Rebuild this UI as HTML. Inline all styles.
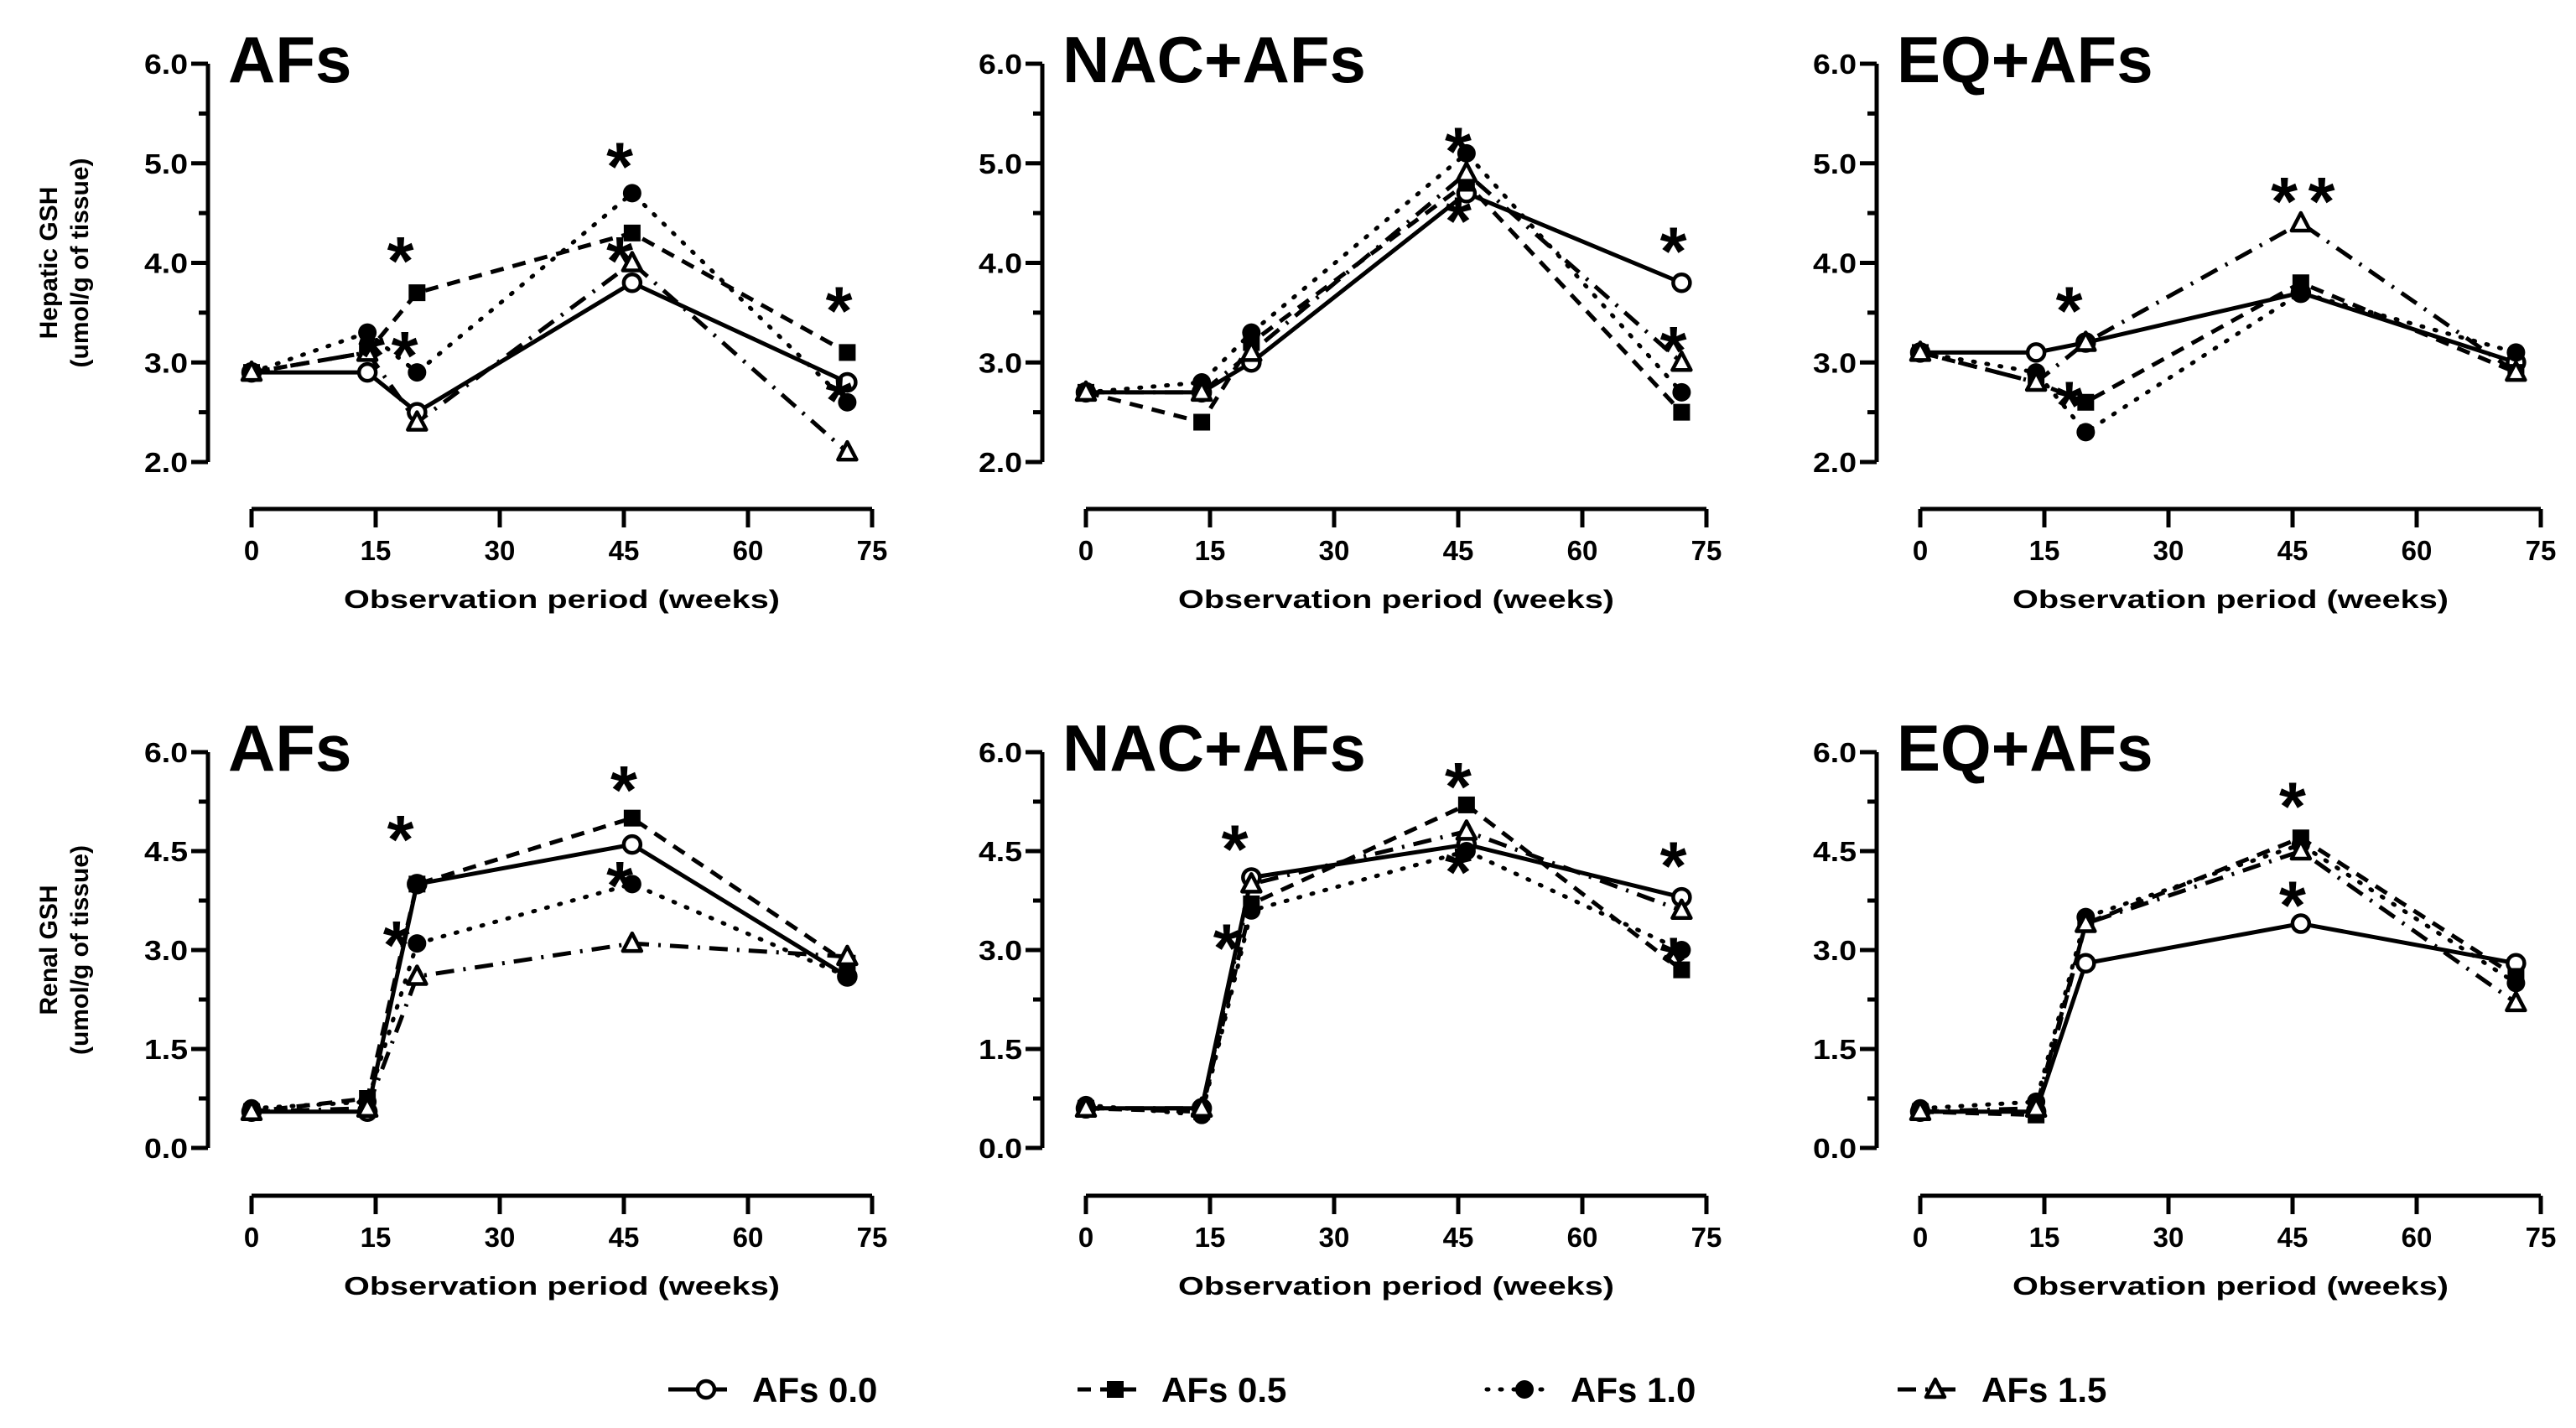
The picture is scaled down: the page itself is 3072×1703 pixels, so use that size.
<!DOCTYPE html>
<html><head><meta charset="utf-8"><style>
html,body{margin:0;padding:0;background:#fff;}
svg{display:block;font-family:"Liberation Sans",Arial,sans-serif;}
</style></head><body>
<svg id="fig" width="3072" height="1703" viewBox="0 0 3072 1703" xmlns="http://www.w3.org/2000/svg"></svg>
<script>
const weeks = [0, 14, 20, 46, 72];
const seriesNames = ["AFs 0.0", "AFs 0.5", "AFs 1.0", "AFs 1.5"];
const panelTitles = ["AFs", "NAC+AFs", "EQ+AFs", "AFs", "NAC+AFs", "EQ+AFs"];
const xTicks = [0, 15, 30, 45, 60, 75];
const hepTicks = ["2.0", "3.0", "4.0", "5.0", "6.0"];
const renTicks = ["0.0", "1.5", "3.0", "4.5", "6.0"];
const hepAFs = [[2.9,2.9,2.5,3.8,2.8],[2.9,3.1,3.7,4.3,3.1],[2.9,3.3,2.9,4.7,2.6],[2.9,3.1,2.4,4.0,2.1]];
const hepNAC = [[2.7,2.7,3.0,4.7,3.8],[2.7,2.4,3.2,4.8,2.5],[2.7,2.8,3.3,5.1,2.7],[2.7,2.7,3.1,4.9,3.0]];
const hepEQ = [[3.1,3.1,3.2,3.7,3.0],[3.1,2.8,2.6,3.8,2.9],[3.1,2.9,2.3,3.7,3.1],[3.1,2.8,3.2,4.4,2.9]];
const renAFs = [[0.55,0.55,4.0,4.6,2.6],[0.55,0.75,4.0,5.0,2.8],[0.6,0.7,3.1,4.0,2.6],[0.55,0.6,2.6,3.1,2.9]];
const renNAC = [[0.6,0.6,4.1,4.6,3.8],[0.6,0.55,3.7,5.2,2.7],[0.65,0.5,3.6,4.5,3.0],[0.6,0.6,4.0,4.8,3.6]];
const renEQ = [[0.55,0.55,2.8,3.4,2.8],[0.55,0.5,3.4,4.7,2.6],[0.6,0.7,3.5,4.6,2.5],[0.55,0.6,3.4,4.5,2.2]];
const starsHepAFs = [[18,4.1],[14.5,3.15],[18.5,3.15],[44.5,5.05],[44.5,4.1],[71,3.6],[71,2.7]];
const starsHepNAC = [[45,5.2],[45,4.5],[71,4.2],[71,3.2]];
const starsHepEQ = [[18,3.6],[18,2.65],[44,4.7],[48.5,4.7]];
const starsRenAFs = [[18,4.8],[45,5.55],[44.5,4.1],[17.5,3.2]];
const starsRenNAC = [[18,4.65],[17,3.15],[45,5.6],[45,4.3],[71,4.4],[71,2.95]];
const starsRenEQ = [[45,5.3],[45,3.8]];

const svg = document.getElementById('fig');
const NS = 'http://www.w3.org/2000/svg';
function mk(tag, attrs, parent){const e=document.createElementNS(NS,tag);for(const k in attrs)e.setAttribute(k,attrs[k]);(parent||svg).appendChild(e);return e;}
const dashes = ["none","16 11","2 14","22 11 3 11"];
const colX0 = [300, 1295, 2290];
const W = 740;
const rows = [
 {yTop:76, yBot:551, axisY:607, tickLblY:668, titleY:725, min:2, max:6, ticks:hepTicks, label:["Hepatic GSH","(umol/g of tissue)"], data:[hepAFs,hepNAC,hepEQ], stars:[starsHepAFs,starsHepNAC,starsHepEQ]},
 {yTop:897, yBot:1369, axisY:1426, tickLblY:1487, titleY:1544, min:0, max:6, ticks:renTicks, label:["Renal GSH","(umol/g of tissue)"], data:[renAFs,renNAC,renEQ], stars:[starsRenAFs,starsRenNAC,starsRenEQ]}
];
function marker(g,i,x,y){
  if(i===0){const c=mk('circle',{cx:x,cy:y,r:10,fill:'#fff',stroke:'#000','stroke-width':4.5},g);}
  else if(i===1){const r=mk('rect',{x:x-10,y:y-10,width:20,height:20,fill:'#000'},g);}
  else if(i===2){const c=mk('circle',{cx:x,cy:y,r:11,fill:'#000'},g);}
  else {const p=mk('polygon',{points:`${x},${y-12} ${x+11},${y+9} ${x-11},${y+9}`,fill:'#fff',stroke:'#000','stroke-width':4.5,'stroke-linejoin':'round'},g);}
}
rows.forEach((R,ri)=>{
  for(let c=0;c<3;c++){
    const x0=colX0[c];
    const xs=v=>x0+v/75*W;
    const ys=v=>R.yBot-(v-R.min)/(R.max-R.min)*(R.yBot-R.yTop);
    const g=mk('g',{});
    
    
    const ax=x0-52;
    const yl=mk('line',{x1:ax,y1:R.yTop,x2:ax,y2:R.yBot,stroke:'#000','stroke-width':5},g);
    
    
    for(let k=0;k<=8;k++){
      const yy=R.yBot-k/8*(R.yBot-R.yTop);
      const len=k%2===0?20:11;
      mk('line',{x1:ax-len,y1:yy,x2:ax,y2:yy,stroke:'#000','stroke-width':5},g);
    }
    R.ticks.forEach((t,k)=>{
      const yy=R.yBot-k/4*(R.yBot-R.yTop);
      const tx=mk('text',{x:ax-24,y:yy+12,'text-anchor':'end','font-size':33,'font-weight':'bold',textLength:52,lengthAdjust:'spacingAndGlyphs'},g);
      tx.textContent=t;
      
      
    });
    const xl=mk('line',{x1:x0,y1:R.axisY,x2:x0+W,y2:R.axisY,stroke:'#000','stroke-width':5},g);
    
    
    xTicks.forEach(t=>{
      mk('line',{x1:xs(t),y1:R.axisY,x2:xs(t),y2:R.axisY+22,stroke:'#000','stroke-width':5},g);
      const tx=mk('text',{x:xs(t),y:R.tickLblY,'text-anchor':'middle','font-size':33,'font-weight':'bold'},g);
      tx.textContent=t;
      
      
    });
    const xt=mk('text',{x:x0+W/2,y:R.titleY,'text-anchor':'middle','font-size':31,'font-weight':'bold',textLength:520,lengthAdjust:'spacingAndGlyphs'},g);
    xt.textContent='Observation period (weeks)';
    
    
    const pt=mk('text',{x:x0-28,y:R.yTop+22,'font-size':78,'font-weight':'bold'},g);
    pt.textContent=panelTitles[ri*3+c];
    
    
    if(c===0){
      const cy=(R.yTop+R.yBot)/2;
      const t1=mk('text',{x:0,y:0,'text-anchor':'middle','font-size':30,'font-weight':'bold',transform:`translate(68,${cy}) rotate(-90)`},g);
      t1.textContent=R.label[0];
      
      
      const t2=mk('text',{x:0,y:0,'text-anchor':'middle','font-size':30,'font-weight':'bold',transform:`translate(105,${cy}) rotate(-90)`},g);
      t2.textContent=R.label[1];
      
      
    }
    const D=R.data[c];
    D.forEach((vals,si)=>{
      const pts=vals.map((v,k)=>xs(weeks[k])+','+ys(v)).join(' ');
      const pl=mk('polyline',{points:pts,fill:'none',stroke:'#000','stroke-width':5,'stroke-dasharray':dashes[si],'stroke-linecap':si===2?'round':'butt'},g);
      
      
    });
    D.forEach((vals,si)=>{vals.forEach((v,k)=>marker(g,si,xs(weeks[k]),ys(v)));});
    R.stars[c].forEach(s=>{
      const st=mk('text',{x:xs(s[0]),y:ys(s[1])+38,'text-anchor':'middle','font-size':82,'font-weight':'bold'},g);
      st.textContent='*';
      
      
    });
  }
});
const legX=[797,1285,1773,2263];
const legY=1657;
seriesNames.forEach((n,i)=>{
  const g=mk('g',{});
  
  
  const lx=legX[i];
  mk('line',{x1:lx,y1:legY,x2:lx+70,y2:legY,stroke:'#000','stroke-width':5,'stroke-dasharray':dashes[i],'stroke-linecap':i===2?'round':'butt'},g);
  marker(g,i,lx+45,legY);
  const t=mk('text',{x:lx+100,y:legY+15,'font-size':42,'font-weight':'bold'},g);
  t.textContent=n;
  
  
});
</script>
</body></html>
